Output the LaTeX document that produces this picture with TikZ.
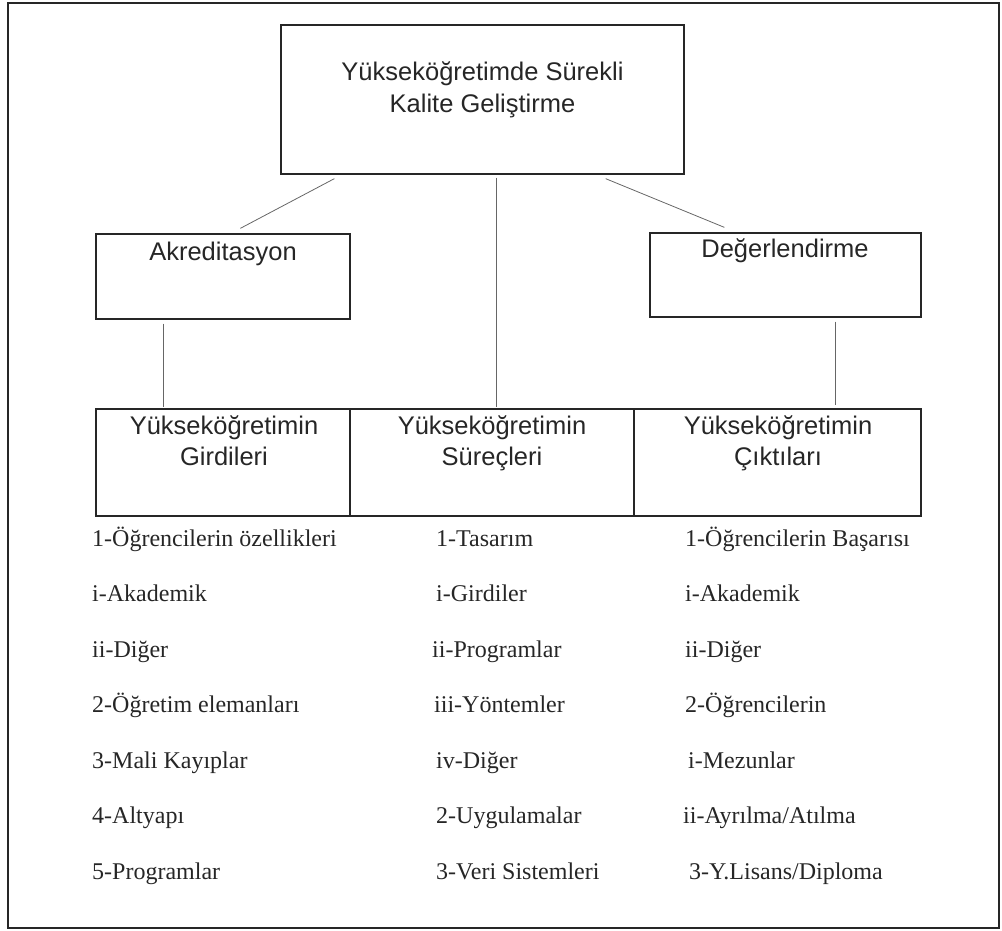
\documentclass[tikz,border=0pt]{standalone}
\usepackage{fontspec}
\setmainfont{Liberation Serif}
\newfontfamily\boxfont{Liberation Sans}
\usetikzlibrary{calc}
\begin{document}
\begin{tikzpicture}[x=1pt,y=-1pt,
  box/.style={draw=black!85, line width=1.3pt, rectangle, inner sep=0pt},
  conn/.style={draw=black!60, line width=0.8pt},
  lbl/.style={font=\boxfont\fontsize{25.5}{31}\selectfont, anchor=base, inner sep=0pt, text=black!85},
  item/.style={font=\fontsize{24}{28}\selectfont, anchor=base west, inner sep=0pt, text=black!85}]

\useasboundingbox (0,0) rectangle (1002,930);

% outer frame
\draw[line width=1.5pt, black!85] (8,3) rectangle (999,928);

% boxes
\node[box, minimum width=403, minimum height=149] (top) at (482.5,99.5) {};
\node[box, minimum width=254, minimum height=85] (akr) at (223,276.5) {};
\node[box, minimum width=271, minimum height=84] (deg) at (785.5,275) {};
\node[box, minimum width=254, minimum height=107] (gir) at (223,462.5) {};
\node[box, minimum width=284, minimum height=107] (sur) at (492,462.5) {};
\node[box, minimum width=287, minimum height=107] (cik) at (777.5,462.5) {};

% box labels
\node[lbl] (topA) at (482.5,80) {Yükseköğretimde Sürekli};
\node[lbl] (topB) at (482.5,112) {Kalite Geliştirme};
\node[lbl] (akrA) at (223,260) {Akreditasyon};
\node[lbl] (degA) at (785,257) {Değerlendirme};
\node[lbl] (girA) at (224,434) {Yükseköğretimin};
\node[lbl] (girB) at (224,465) {Girdileri};
\node[lbl] (surA) at (492,434) {Yükseköğretimin};
\node[lbl] (surB) at (492,465) {Süreçleri};
\node[lbl] (cikA) at (778,434) {Yükseköğretimin};
\node[lbl] (cikB) at (778,465) {Çıktıları};

% connectors
\draw[conn] ($(top.south west)+(54,4)$) -- ($(akr.north west)+(145,-5)$);
\draw[conn] ($(top.south)+(13.5,3)$) -- ($(sur.north)+(4,-1)$);
\draw[conn] ($(top.south east)+(-79,4)$) -- ($(deg.north west)+(75,-5)$);
\draw[conn] ($(akr.south west)+(68,4)$) -- ($(gir.north west)+(68,-1)$);
\draw[conn] ($(deg.south west)+(186,4)$) -- ($(cik.north west)+(202,-3)$);

% list under the inputs
\node[item] (g1) at (92,546) {1-Öğrencilerin özellikleri};
\node[item] (g2) at (92,601.5) {i-Akademik};
\node[item] (g3) at (92,657) {ii-Diğer};
\node[item] (g4) at (92,712.5) {2-Öğretim elemanları};
\node[item] (g5) at (92,768) {3-Mali Kayıplar};
\node[item] (g6) at (92,823.5) {4-Altyapı};
\node[item] (g7) at (92,879) {5-Programlar};

% list under the processes
\node[item] (s1) at (436,546) {1-Tasarım};
\node[item] (s2) at (436,601.5) {i-Girdiler};
\node[item] (s3) at (432,657) {ii-Programlar};
\node[item] (s4) at (434,712.5) {iii-Yöntemler};
\node[item] (s5) at (436,768) {iv-Diğer};
\node[item] (s6) at (436,823.5) {2-Uygulamalar};
\node[item] (s7) at (436,879) {3-Veri Sistemleri};

% list under the outputs
\node[item] (c1) at (685,546) {1-Öğrencilerin Başarısı};
\node[item] (c2) at (685,601.5) {i-Akademik};
\node[item] (c3) at (685,657) {ii-Diğer};
\node[item] (c4) at (685,712.5) {2-Öğrencilerin};
\node[item] (c5) at (688,768) {i-Mezunlar};
\node[item] (c6) at (683,823.5) {ii-Ayrılma/Atılma};
\node[item] (c7) at (689,879) {3-Y.Lisans/Diploma};
\end{tikzpicture}
\end{document}
